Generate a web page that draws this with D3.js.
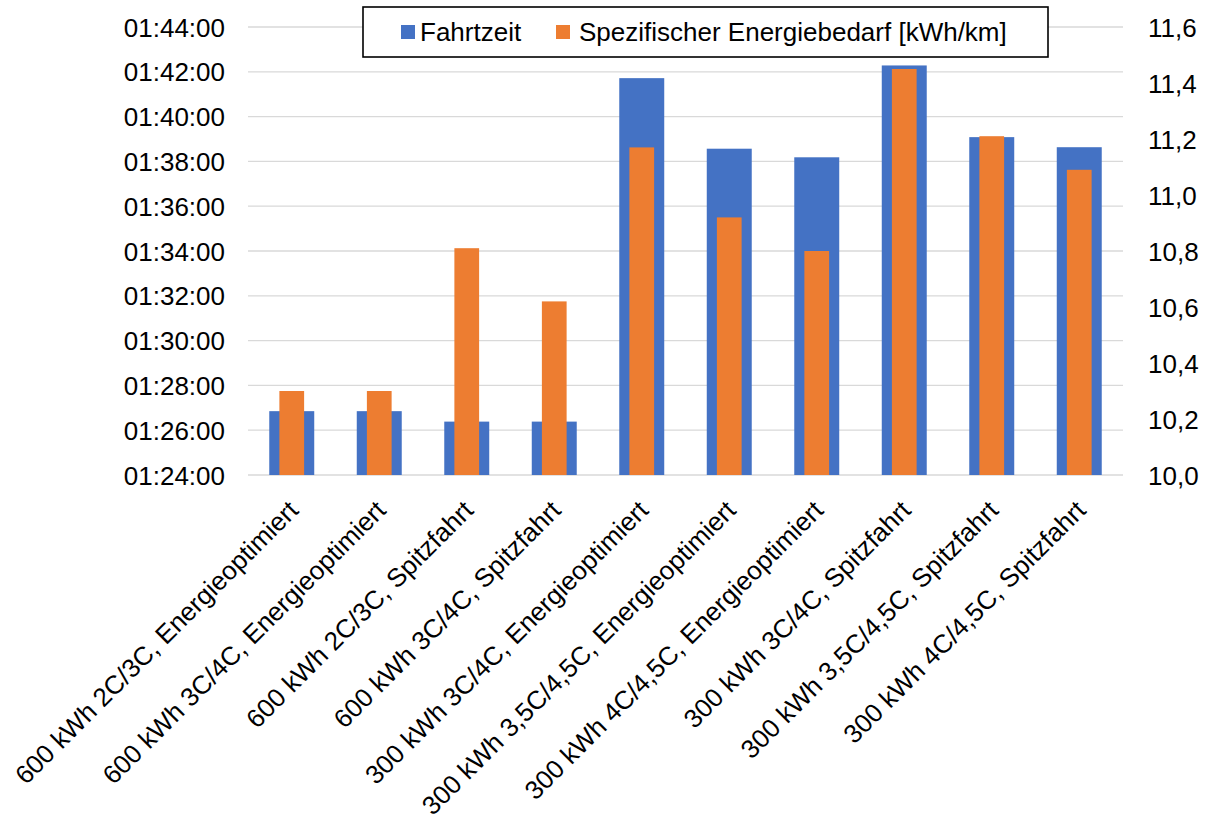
<!DOCTYPE html>
<html>
<head>
<meta charset="utf-8">
<script src="https://cdn.jsdelivr.net/npm/d3@7"></script>
<style>
  html, body { margin: 0; padding: 0; background: #fff; }
  svg { display: block; }
  text { font-family: "Liberation Sans", Arial, sans-serif; fill: #000; }
</style>
</head>
<body>
<svg id="chart" width="1209" height="820"></svg>
<script>
const categories = [
  "600 kWh 2C/3C, Energieoptimiert",
  "600 kWh 3C/4C, Energieoptimiert",
  "600 kWh 2C/3C, Spitzfahrt",
  "600 kWh 3C/4C, Spitzfahrt",
  "300 kWh 3C/4C, Energieoptimiert",
  "300 kWh 3,5C/4,5C, Energieoptimiert",
  "300 kWh 4C/4,5C, Energieoptimiert",
  "300 kWh 3C/4C, Spitzfahrt",
  "300 kWh 3,5C/4,5C, Spitzfahrt",
  "300 kWh 4C/4,5C, Spitzfahrt"
];
// Fahrtzeit (h:mm:ss)
const fahrtzeit = [
  "01:26:51", "01:26:51", "01:26:23", "01:26:23", "01:41:43",
  "01:38:34", "01:38:11", "01:42:17", "01:39:05", "01:38:38"
];
// Spezifischer Energiebedarf [kWh/km]
const energie = [10.30, 10.30, 10.81, 10.62, 11.17, 10.92, 10.80, 11.45, 11.21, 11.09];

const leftTicks = ["01:24:00","01:26:00","01:28:00","01:30:00","01:32:00","01:34:00",
                   "01:36:00","01:38:00","01:40:00","01:42:00","01:44:00"];
const rightTicks = [10.0, 10.2, 10.4, 10.6, 10.8, 11.0, 11.2, 11.4, 11.6];
const seriesNames = ["Fahrtzeit", "Spezifischer Energiebedarf [kWh/km]"];
const colors = ["#4472C4", "#ED7D31"];

const toSec = s => { const [h, m, sec] = s.split(":").map(Number); return h * 3600 + m * 60 + sec; };
const fmtTime = v => {
  const h = Math.floor(v / 3600), m = Math.floor((v % 3600) / 60), s = Math.round(v % 60);
  const p = n => String(n).padStart(2, "0");
  return p(h) + ":" + p(m) + ":" + p(s);
};
const fmtNum = v => d3.format(".1f")(v).replace(".", ",");

const svg = d3.select("#chart");
const plot = { left: 248, right: 1123, top: 27, bottom: 475 };
const fontSize = 26;

const x = d3.scaleBand().domain(categories).range([plot.left, plot.right])
  .paddingInner(0.486).paddingOuter(0.243);
const yL = d3.scaleLinear().domain([toSec(leftTicks[0]), toSec(leftTicks[leftTicks.length - 1])])
  .range([plot.bottom, plot.top]);
const yR = d3.scaleLinear().domain([rightTicks[0], rightTicks[rightTicks.length - 1]])
  .range([plot.bottom, plot.top]);

// Gridlines
svg.append("g").selectAll("line").data(leftTicks).join("line")
  .attr("x1", plot.left).attr("x2", plot.right)
  .attr("y1", d => yL(toSec(d))).attr("y2", d => yL(toSec(d)))
  .attr("stroke", "#d9d9d9").attr("stroke-width", 1.3);

// Left axis
const leftAxis = d3.axisLeft(yL).tickValues(leftTicks.map(toSec)).tickFormat(fmtTime).tickSize(0).tickPadding(23);
const gL = svg.append("g").attr("transform", `translate(${plot.left},0)`).call(leftAxis);
gL.select(".domain").remove();
gL.selectAll("text").style("font-size", fontSize + "px").attr("fill", "#000").attr("dy", "0.35em");

// Right axis
const rightAxis = d3.axisRight(yR).tickValues(rightTicks).tickFormat(fmtNum).tickSize(0).tickPadding(25);
const gR = svg.append("g").attr("transform", `translate(${plot.right},0)`).call(rightAxis);
gR.select(".domain").remove();
gR.selectAll("text").style("font-size", fontSize + "px").attr("fill", "#000").attr("dy", "0.35em");

// Blue bars (left axis)
const bw = x.bandwidth();
svg.append("g").selectAll("rect").data(categories).join("rect")
  .attr("x", d => x(d)).attr("width", bw)
  .attr("y", (d, i) => yL(toSec(fahrtzeit[i])))
  .attr("height", (d, i) => plot.bottom - yL(toSec(fahrtzeit[i])))
  .attr("fill", colors[0]);

// Orange bars (right axis), narrower, overlapping
const ow = bw * 0.55;
svg.append("g").selectAll("rect").data(categories).join("rect")
  .attr("x", d => x(d) + (bw - ow) / 2).attr("width", ow)
  .attr("y", (d, i) => yR(energie[i]))
  .attr("height", (d, i) => plot.bottom - yR(energie[i]))
  .attr("fill", colors[1]);

// Category labels
svg.append("g").selectAll("text").data(categories).join("text")
  .attr("transform", d => `translate(${x(d) + bw / 2 + 8},${plot.bottom + 37}) rotate(-45)`)
  .attr("text-anchor", "end")
  .style("font-size", fontSize + "px")
  .text(d => d);

// Legend
const lg = svg.append("g");
lg.append("rect").attr("x", 363).attr("y", 7).attr("width", 685).attr("height", 50)
  .attr("fill", "#fff").attr("stroke", "#000").attr("stroke-width", 1.6);
const items = [{ sx: 401, tx: 420 }, { sx: 556, tx: 579 }];
items.forEach((it, i) => {
  lg.append("rect").attr("x", it.sx).attr("y", 25).attr("width", 14).attr("height", 14).attr("fill", colors[i]);
  lg.append("text").attr("x", it.tx).attr("y", 32).attr("dy", "0.35em")
    .style("font-size", fontSize + "px").text(seriesNames[i]);
});
</script>
</body>
</html>
